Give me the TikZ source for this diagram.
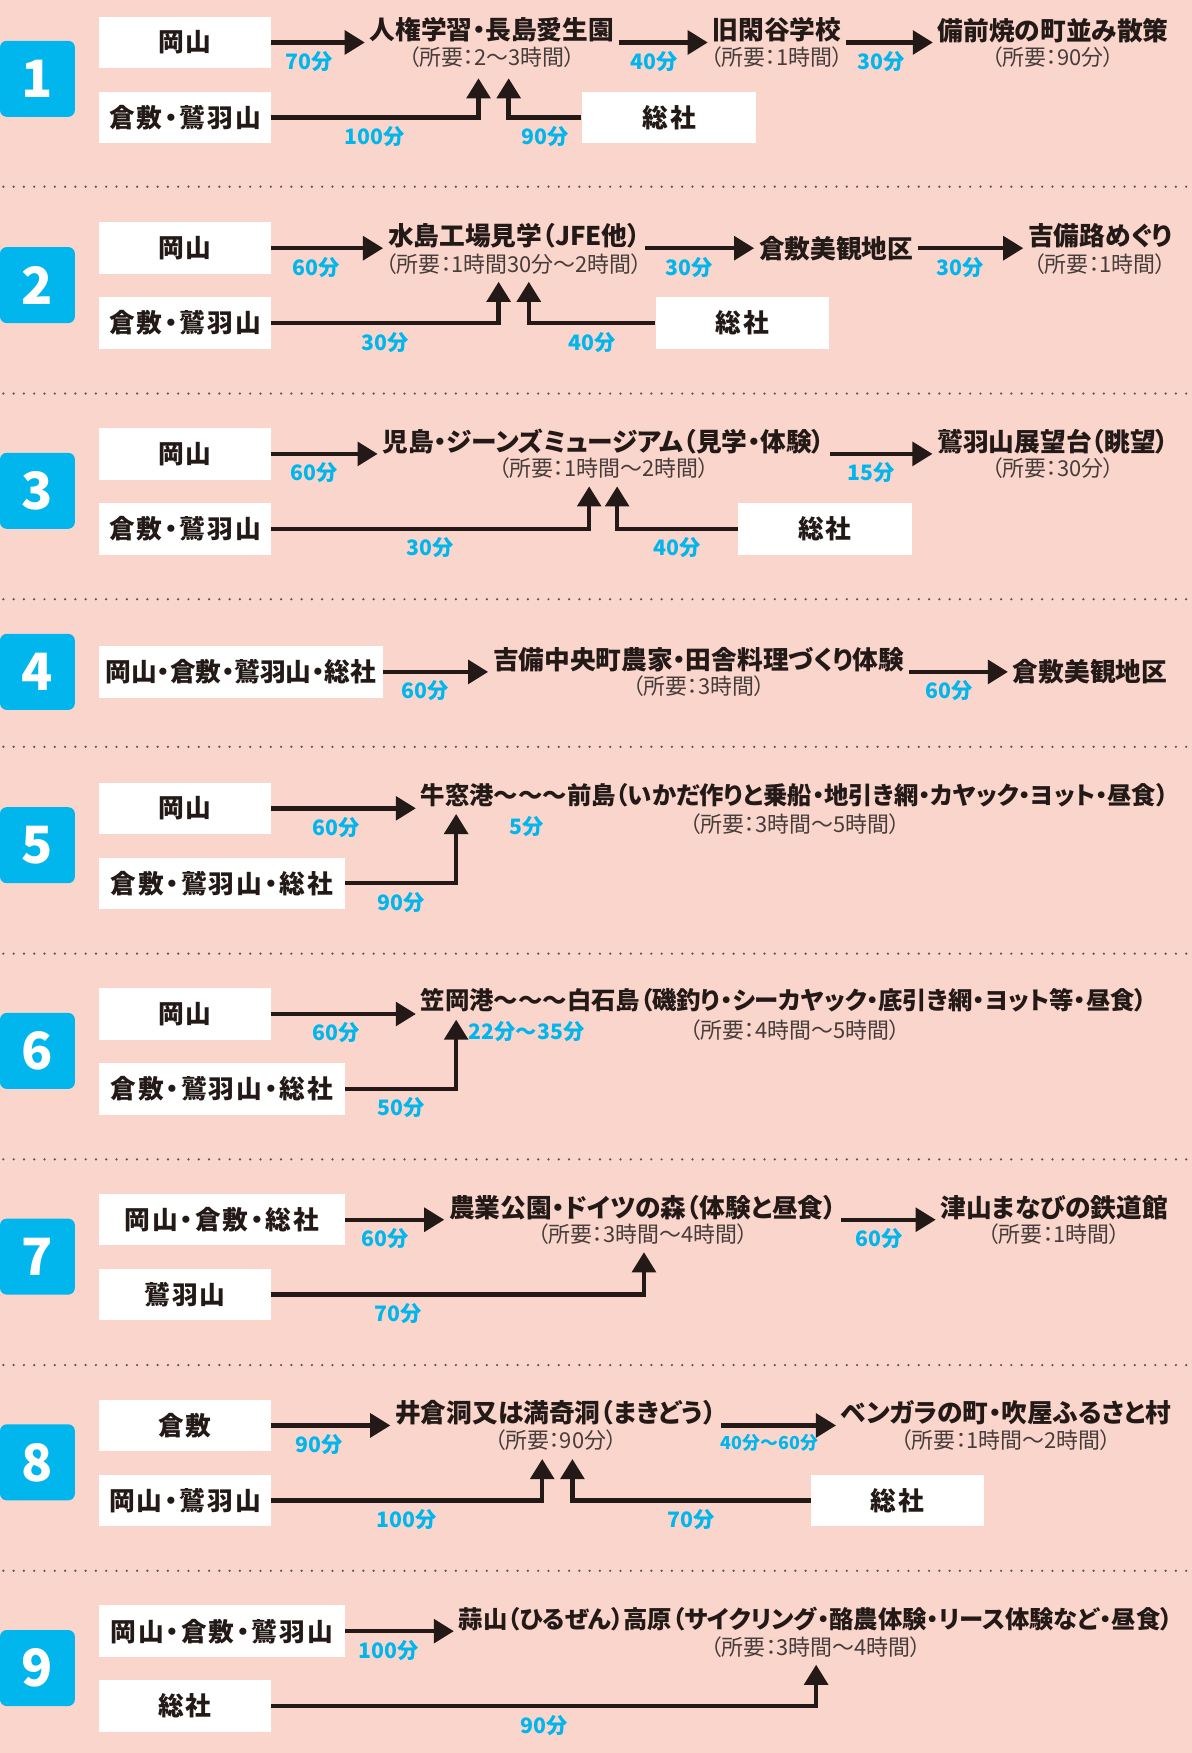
\documentclass[tikz,border=0pt]{standalone}
\usepackage{fontspec}
\setmainfont{Noto Sans CJK JP}[RawFeature=+palt]
\newfontfamily\boxfont{Noto Sans CJK JP}[RawFeature=+palt, LetterSpace=8]
\usepackage{xcolor}
\usetikzlibrary{arrows.meta}

\definecolor{bgpink}{RGB}{250,213,204}
\definecolor{tourcyan}{RGB}{0,182,236}
\definecolor{ink}{RGB}{35,26,24}
\definecolor{subgray}{RGB}{70,60,58}

\tikzset{
  badge/.style={fill=tourcyan, rounded corners=3pt, text=white, inner sep=0pt,
    minimum width=33.5pt, minimum height=34pt, font=\fontsize{23}{23}\selectfont\bfseries},
  origin/.style={fill=white, text=ink, inner sep=0pt, minimum height=23pt,
    font=\boxfont\fontsize{11.5}{11.5}\selectfont\bfseries},
  spot/.style={text=ink, inner sep=2pt, font=\fontsize{11.5}{11.5}\selectfont\bfseries},
  longspot/.style={spot, font=\fontsize{10.9}{10.9}\selectfont\bfseries},
  stay/.style={text=subgray, inner sep=0pt, font=\fontsize{9.8}{9.8}\selectfont},
  mins/.style={text=tourcyan, inner sep=1pt, font=\fontsize{9.5}{9.5}\selectfont\bfseries},
  go/.style={draw=ink, line width=2pt, -{Triangle[length=9pt,width=10.5pt]}},
  sep/.style={draw=ink!75, line width=1.1pt, line cap=round, dash pattern=on 0pt off 4.6pt},
}

\begin{document}
\begin{tikzpicture}[x=0.5pt,y=-0.5pt]
  \useasboundingbox (0,0) rectangle (1066,1568);
  \fill[bgpink] (0,0) rectangle (1066,1568);

  % dotted separators
  \foreach \y in {167,352,536,668,853,1037,1221,1405}
    \draw[sep] (3,\y) -- (1066,\y);

  % ---- 1
  \node[badge] (n1) at (33.5,70.5) {1};
  \node[origin, minimum width=77pt, anchor=west] (ok1) at (88,38) {岡山};
  \node[origin, minimum width=77pt, anchor=west] (kw1) at (88,105) {倉敷・鷲羽山};
  \node[origin, minimum width=78pt, anchor=west] (sj1) at (520,105) {総社};
  \node[spot] (t1a) at (440,27) {人権学習・長島愛生園};
  \node[stay] (s1a) at (440,51) {（所要：2〜3時間）};
  \node[spot] (t1b) at (695,27) {旧閑谷学校};
  \node[stay] (s1b) at (695,51) {（所要：1時間）};
  \node[spot] (t1c) at (942,27) {備前焼の町並み散策};
  \node[stay] (s1c) at (942,51) {（所要：90分）};
  \coordinate (u1a) at (428,70);
  \coordinate (u1b) at (455,70);
  \draw[go] (ok1.east) -- node[mins, below=2pt, pos=0.4] {70分} (t1a.west |- ok1.east);
  \draw[go] (t1a.east |- ok1.east) -- node[mins, below=2pt, pos=0.4] {40分} (t1b.west |- ok1.east);
  \draw[go] (t1b.east |- ok1.east) -- node[mins, below=2pt, pos=0.4] {30分} (t1c.west |- ok1.east);
  \draw[go] (kw1.east) -| node[mins, below=2pt, pos=0.25] {100分} (u1a);
  \draw[go] (sj1.west) -| node[mins, below=2pt, pos=0.25] {90分} (u1b);

  % ---- 2
  \node[badge] (n2) at (33.5,255) {2};
  \node[origin, minimum width=77pt, anchor=west] (ok2) at (88,222) {岡山};
  \node[origin, minimum width=77pt, anchor=west] (kw2) at (88,289) {倉敷・鷲羽山};
  \node[origin, minimum width=77.5pt, anchor=west] (sj2) at (586,289) {総社};
  \node[spot] (t2a) at (460,211) {水島工場見学（JFE他）};
  \node[stay] (s2a) at (460,236) {（所要：1時間30分〜2時間）};
  \node[spot] (t2b) at (748,222) {倉敷美観地区};
  \node[spot] (t2c) at (984,211) {吉備路めぐり};
  \node[stay] (s2c) at (984,236) {（所要：1時間）};
  \coordinate (u2a) at (446,252);
  \coordinate (u2b) at (473,252);
  \draw[go] (ok2.east) -- node[mins, below=2pt, pos=0.4] {60分} (t2a.west |- ok2.east);
  \draw[go] (t2a.east |- ok2.east) -- node[mins, below=2pt, pos=0.4] {30分} (t2b.west);
  \draw[go] (t2b.east) -- node[mins, below=2pt, pos=0.4] {30分} (t2c.west |- t2b.east);
  \draw[go] (kw2.east) -| node[mins, below=2pt, pos=0.25] {30分} (u2a);
  \draw[go] (sj2.west) -| node[mins, below=2pt, pos=0.25] {40分} (u2b);

  % ---- 3
  \node[badge] (n3) at (33.5,439) {3};
  \node[origin, minimum width=77pt, anchor=west] (ok3) at (88,406) {岡山};
  \node[origin, minimum width=77pt, anchor=west] (kw3) at (88,473) {倉敷・鷲羽山};
  \node[origin, minimum width=77.5pt, anchor=west] (sj3) at (660,473) {総社};
  \node[spot] (t3a) at (540,395) {児島・ジーンズミュージアム（見学・体験）};
  \node[stay] (s3a) at (540,419) {（所要：1時間〜2時間）};
  \node[spot] (t3b) at (942,395) {鷲羽山展望台（眺望）};
  \node[stay] (s3b) at (942,419) {（所要：30分）};
  \coordinate (u3a) at (527,435);
  \coordinate (u3b) at (552,435);
  \draw[go] (ok3.east) -- node[mins, below=2pt, pos=0.4] {60分} (t3a.west |- ok3.east);
  \draw[go] (t3a.east |- ok3.east) -- node[mins, below=2pt, pos=0.4] {15分} (t3b.west |- ok3.east);
  \draw[go] (kw3.east) -| node[mins, below=2pt, pos=0.25] {30分} (u3a);
  \draw[go] (sj3.west) -| node[mins, below=2pt, pos=0.25] {40分} (u3b);

  % ---- 4
  \node[badge] (n4) at (33.5,601) {4};
  \node[origin, minimum width=127pt, anchor=west, font=\fontsize{11.5}{11.5}\selectfont\bfseries] (all4) at (88,601) {岡山・倉敷・鷲羽山・総社};
  \node[spot] (t4a) at (625,590) {吉備中央町農家・田舎料理づくり体験};
  \node[stay] (s4a) at (625,614) {（所要：3時間）};
  \node[spot] (t4b) at (975,601) {倉敷美観地区};
  \draw[go] (all4.east) -- node[mins, below=2pt, pos=0.4] {60分} (t4a.west |- all4.east);
  \draw[go] (t4a.east |- all4.east) -- node[mins, below=2pt, pos=0.4] {60分} (t4b.west);

  % ---- 5
  \node[badge] (n5) at (33.5,756) {5};
  \node[origin, minimum width=77pt, anchor=west] (ok5) at (88,723) {岡山};
  \node[origin, minimum width=110pt, anchor=west] (kws5) at (88,790) {倉敷・鷲羽山・総社};
  \node[longspot, anchor=west] (t5a) at (372,711) {牛窓港〜〜〜前島（いかだ作りと乗船・地引き網・カヤック・ヨット・昼食）};
  \node[stay] (s5a) at (711,737) {（所要：3時間〜5時間）};
  \node[mins] (b5) at (471,739) {5分};
  \coordinate (u5) at (408,728);
  \draw[go] (ok5.east) -- node[mins, below=2pt, pos=0.45] {60分} (t5a.west |- ok5.east);
  \draw[go] (kws5.east) -| node[mins, below=2pt, pos=0.25] {90分} (u5);

  % ---- 6
  \node[badge] (n6) at (33.5,940) {6};
  \node[origin, minimum width=77pt, anchor=west] (ok6) at (88,907) {岡山};
  \node[origin, minimum width=110pt, anchor=west] (kws6) at (88,974) {倉敷・鷲羽山・総社};
  \node[longspot, anchor=west] (t6a) at (372,895) {笠岡港〜〜〜白石島（磯釣り・シーカヤック・底引き網・ヨット等・昼食）};
  \node[stay] (s6a) at (711,921) {（所要：4時間〜5時間）};
  \node[mins] (b6) at (471,923) {22分〜35分};
  \coordinate (u6) at (408,912);
  \draw[go] (ok6.east) -- node[mins, below=2pt, pos=0.45] {60分} (t6a.west |- ok6.east);
  \draw[go] (kws6.east) -| node[mins, below=2pt, pos=0.25] {50分} (u6);

  % ---- 7
  \node[badge] (n7) at (33.5,1124) {7};
  \node[origin, minimum width=110pt, anchor=west] (oks7) at (88,1091) {岡山・倉敷・総社};
  \node[origin, minimum width=77pt, anchor=west] (w7) at (88,1158) {鷲羽山};
  \node[spot] (t7a) at (575,1080) {農業公園・ドイツの森（体験と昼食）};
  \node[stay] (s7a) at (575,1104) {（所要：3時間〜4時間）};
  \node[spot] (t7b) at (943,1080) {津山まなびの鉄道館};
  \node[stay] (s7b) at (943,1104) {（所要：1時間）};
  \coordinate (u7) at (576,1120);
  \draw[go] (oks7.east) -- node[mins, below=2pt, pos=0.4] {60分} (t7a.west |- oks7.east);
  \draw[go] (t7a.east |- oks7.east) -- node[mins, below=2pt, pos=0.4] {60分} (t7b.west |- oks7.east);
  \draw[go] (w7.east) -| node[mins, below=2pt, pos=0.17] {70分} (u7);

  % ---- 8
  \node[badge] (n8) at (33.5,1308) {8};
  \node[origin, minimum width=77pt, anchor=west] (k8) at (88,1275) {倉敷};
  \node[origin, minimum width=77pt, anchor=west] (ow8) at (88,1342) {岡山・鷲羽山};
  \node[origin, minimum width=77.5pt, anchor=west] (sj8) at (725,1342) {総社};
  \node[spot] (t8a) at (497,1264) {井倉洞又は満奇洞（まきどう）};
  \node[stay] (s8a) at (497,1288) {（所要：90分）};
  \node[spot] (t8b) at (900,1264) {ベンガラの町・吹屋ふるさと村};
  \node[stay] (s8b) at (900,1288) {（所要：1時間〜2時間）};
  \coordinate (u8a) at (485,1305);
  \coordinate (u8b) at (512,1305);
  \draw[go] (k8.east) -- node[mins, below=2pt, pos=0.4] {90分} (t8a.west |- k8.east);
  \draw[go] (t8a.east |- k8.east) -- node[mins, below=2pt, pos=0.42, font=\fontsize{8}{8}\selectfont\bfseries] {40分〜60分} (t8b.west |- k8.east);
  \draw[go] (ow8.east) -| node[mins, below=2pt, pos=0.25] {100分} (u8a);
  \draw[go] (sj8.west) -| node[mins, below=2pt, pos=0.25] {70分} (u8b);

  % ---- 9
  \node[badge] (n9) at (33.5,1492) {9};
  \node[origin, minimum width=110pt, anchor=west] (okw9) at (88,1459) {岡山・倉敷・鷲羽山};
  \node[origin, minimum width=77pt, anchor=west] (sj9) at (88,1526) {総社};
  \node[longspot, anchor=west] (t9a) at (406,1448) {蒜山（ひるぜん）高原（サイクリング・酪農体験・リース体験など・昼食）};
  \node[stay] (s9a) at (730,1473) {（所要：3時間〜4時間）};
  \coordinate (u9) at (730,1489);
  \draw[go] (okw9.east) -- node[mins, below=2pt, pos=0.4] {100分} (t9a.west |- okw9.east);
  \draw[go] (sj9.east) -| node[mins, below=2pt, pos=0.25] {90分} (u9);
\end{tikzpicture}
\end{document}
